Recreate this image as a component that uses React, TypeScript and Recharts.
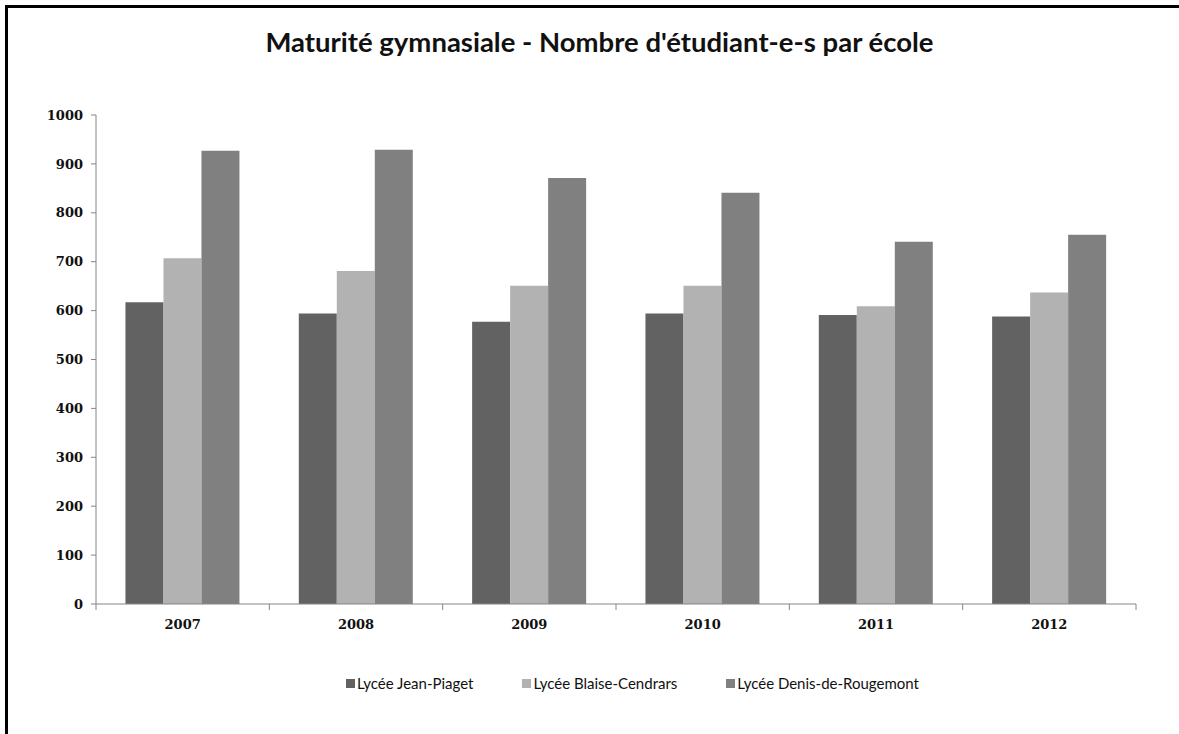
import React from 'react';
import { BarChart, Bar, XAxis, YAxis, Legend } from 'recharts';

const years = ['2007', '2008', '2009', '2010', '2011', '2012'];
const jeanPiaget = [617, 594, 577, 594, 591, 588];
const blaiseCendrars = [707, 681, 651, 651, 609, 637];
const denisDeRougemont = [927, 929, 871, 841, 741, 755];
const yTicks = [0, 100, 200, 300, 400, 500, 600, 700, 800, 900, 1000];

const series = [
  { key: 'jp', name: 'Lycée Jean-Piaget', color: '#626262' },
  { key: 'bc', name: 'Lycée Blaise-Cendrars', color: '#b2b2b2' },
  { key: 'dr', name: 'Lycée Denis-de-Rougemont', color: '#808080' },
];

const data = years.map((year, i) => ({
  year,
  jp: jeanPiaget[i],
  bc: blaiseCendrars[i],
  dr: denisDeRougemont[i],
}));

const FONT = 'Lato, "Open Sans", sans-serif';
const TICK_FONT = '"DejaVu Serif", serif';
const AXIS = '#868686';

const YearTick = (props: any) => {
  const { x, y, payload, index } = props;
  const half = payload && payload.offset ? payload.offset : 0;
  return (
    <g>
      <line x1={x - half} y1={y - 8} x2={x - half} y2={y - 2} stroke={AXIS} />
      {index === years.length - 1 && (
        <line x1={x + half} y1={y - 8} x2={x + half} y2={y - 2} stroke={AXIS} />
      )}
      <text x={x} y={y + 17} textAnchor="middle" fontFamily={TICK_FONT} fontWeight={700} fontSize={13} fill="#111">
        {payload.value}
      </text>
    </g>
  );
};

const LegendContent = () => (
  <div style={{ display: 'flex', gap: 49, fontFamily: FONT, fontSize: 15, color: '#111', paddingLeft: 346 }}>
    {series.map((s) => (
      <span key={s.key} style={{ display: 'flex', alignItems: 'center' }}>
        <span style={{ width: 9, height: 9, background: s.color, display: 'inline-block', marginRight: 2 }} />
        {s.name}
      </span>
    ))}
  </div>
);

export default function App() {
  return (
    <div style={{ position: 'absolute', left: 0, top: 0, width: 1179, height: 734, overflow: 'hidden', background: '#fff' }}>
      <div style={{ position: 'absolute', left: 5, top: 5, width: 1174, height: 3, background: '#000' }} />
      <div style={{ position: 'absolute', left: 5, top: 5, width: 3, height: 729, background: '#000' }} />
      <div
        style={{
          position: 'absolute',
          left: 0,
          top: 25,
          width: 1199,
          textAlign: 'center',
          fontFamily: FONT,
          fontWeight: 700,
          fontSize: 27.5,
          color: '#111',
        }}
      >
        Maturité gymnasiale - Nombre d'étudiant-e-s par école
      </div>
      <div style={{ position: 'absolute', left: 0, top: 0 }}>
        <BarChart
          width={1179}
          height={734}
          data={data}
          margin={{ top: 115, right: 43, left: 0, bottom: 40 }}
          barCategoryGap="17%"
          barGap={0}
        >
          <XAxis
            dataKey="year"
            axisLine={{ stroke: AXIS }}
            tickLine={false}
            tick={<YearTick />}
            interval={0}
            height={70}
          />
          <XAxis xAxisId="top" dataKey="year" orientation="top" height={0} tick={false} tickLine={false} axisLine={{ stroke: AXIS }} />
          <YAxis
            domain={[0, 1000]}
            ticks={yTicks}
            width={96}
            axisLine={{ stroke: AXIS }}
            tickLine={{ stroke: AXIS }}
            tickSize={5}
            tickMargin={8}
            tick={{ fontFamily: TICK_FONT, fontWeight: 700, fontSize: 13, fill: '#111' }}
          />
          <YAxis yAxisId="right" orientation="right" width={0} domain={[0, 1000]} tick={false} tickLine={false} axisLine={{ stroke: '#555' }} />
          <Legend verticalAlign="bottom" height={20} content={<LegendContent />} />
          {series.map((s) => (
            <Bar key={s.key} dataKey={s.key} name={s.name} fill={s.color} isAnimationActive={false} />
          ))}
        </BarChart>
      </div>
    </div>
  );
}
